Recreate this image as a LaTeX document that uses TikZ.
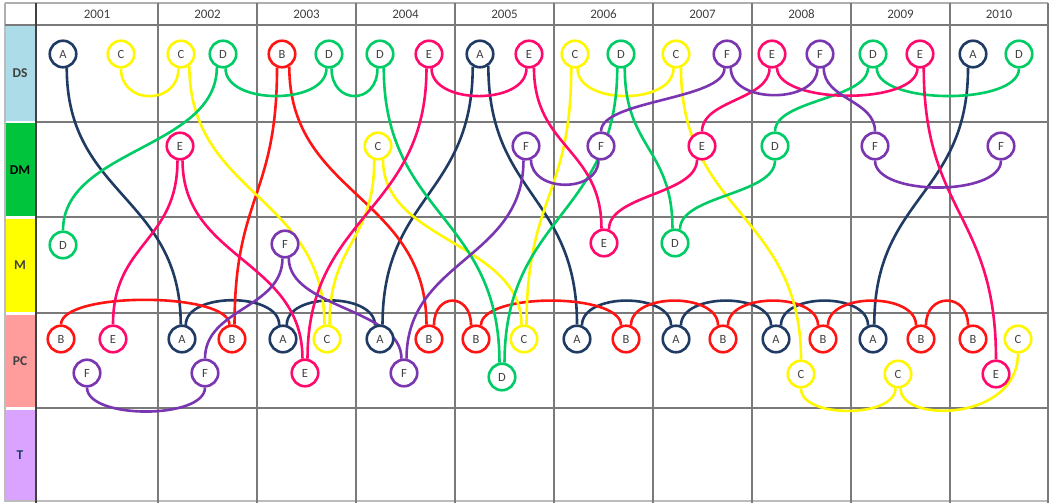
\documentclass[tikz,border=0pt]{standalone}
\usepackage{fontspec}
\setmainfont{Carlito}
\usetikzlibrary{calc}
\pgfdeclarelayer{gridl}
\pgfdeclarelayer{lines}
\pgfsetlayers{gridl,lines,main}
\definecolor{cA}{HTML}{1F3B63}
\definecolor{cB}{HTML}{FF1414}
\definecolor{cC}{HTML}{FFF700}
\definecolor{cD}{HTML}{00CC66}
\definecolor{cE}{HTML}{FF0A6C}
\definecolor{cF}{HTML}{7A35B0}
\definecolor{lDS}{HTML}{ACDCE8}
\definecolor{lDM}{HTML}{00C43C}
\definecolor{lM}{HTML}{FFFF00}
\definecolor{lPC}{HTML}{FF9C9C}
\definecolor{lT}{HTML}{D9A3FF}
\definecolor{txt}{HTML}{404040}
\definecolor{gridc}{HTML}{7A7A7A}
\tikzset{
  nd/.style={circle, draw=#1, line width=2.6pt, fill=white, minimum size=26.5pt,
    inner sep=0pt, font=\fontsize{12.5}{12.5}\selectfont, text=txt},
  cn/.style={draw=#1, line width=2.6pt},
  gl/.style={draw=gridc, line width=2.6pt},
  hdr/.style={font=\fontsize{13}{13}\selectfont, text=txt, inner sep=0pt},
  lab/.style={font=\bfseries\fontsize{13.5}{13.5}\selectfont, text=#1, inner sep=0pt},
}
\newcommand\conS[3]{%
  \path (#2) -- coordinate[midway] (mm) (#3);
  \draw[cn=#1] (#2) .. controls (#2|-mm) and (#3|-mm) .. (#3);}
\newcommand\conU[4]{%
  \draw[cn=#1] (#2) .. controls +(0,#4) and +(0,#4) .. (#3);}
\begin{document}
\begin{tikzpicture}[x=1pt,y=-1pt]
\useasboundingbox (0,0) rectangle (1050,503);
\begin{pgfonlayer}{gridl}
  \fill[white] (0,0) rectangle (1050,503);
  \fill[lDS] (5,26) rectangle (35,120.5);
  \fill[lDM] (5,123) rectangle (35,216);
  \fill[lM] (5,218.5) rectangle (35,312);
  \fill[lPC] (5,314.5) rectangle (35,407);
  \fill[lT] (5,409.5) rectangle (35,501);
  \draw[gl, draw=gridc!60, line width=1.5pt] (5,3) -- (1048,3);
  \draw[gl, draw=gridc!60, line width=1.5pt] (5,3) -- (5,25);
  \draw[gl, draw=gridc!50, line width=1.2pt] (5,25) -- (5,501) -- (1048,501);
  \draw[gl] (5,25) -- (36,25);
  \foreach \y in {25,122,217,313,408} { \draw[gl] (36,\y) -- (1048,\y); }
  \foreach \x in {158,257,356,455,554,653,752,851,950,1048} { \draw[gl] (\x,3) -- (\x,503); }
  \draw[gl, draw=black!75, line width=2.2pt] (36,3) -- (36,503);
\end{pgfonlayer}
% header
\node[hdr] (y01) at (97,14.5) {2001};
\node[hdr] (y02) at (207.5,14.5) {2002};
\node[hdr] (y03) at (306.5,14.5) {2003};
\node[hdr] (y04) at (405.5,14.5) {2004};
\node[hdr] (y05) at (504.5,14.5) {2005};
\node[hdr] (y06) at (603.5,14.5) {2006};
\node[hdr] (y07) at (702.5,14.5) {2007};
\node[hdr] (y08) at (801.5,14.5) {2008};
\node[hdr] (y09) at (900.5,14.5) {2009};
\node[hdr] (y10) at (999,14.5) {2010};
% row labels
\node[lab=txt] (rDS) at (20,73) {DS};
\node[lab=black] (rDM) at (20,170) {DM};
\node[lab=txt] (rM) at (20,265) {M};
\node[lab=txt] (rPC) at (20,361) {PC};
\node[lab=cA] (rT) at (20,455) {T};
% DS row
\node[nd=cA] (A01s) at (63,54) {A};
\node[nd=cC] (C01s) at (121,54) {C};
\node[nd=cC] (C02s) at (181,54) {C};
\node[nd=cD] (D02s) at (223,54) {D};
\node[nd=cB] (B03s) at (282,54) {B};
\node[nd=cD] (D03s) at (329,54) {D};
\node[nd=cD] (D04s) at (380,54) {D};
\node[nd=cE] (E04s) at (429,54) {E};
\node[nd=cA] (A05s) at (480,54) {A};
\node[nd=cE] (E05s) at (529,54) {E};
\node[nd=cC] (C06s) at (575,54) {C};
\node[nd=cD] (D06s) at (621,54) {D};
\node[nd=cC] (C07s) at (676,54) {C};
\node[nd=cF] (F07s) at (727,54) {F};
\node[nd=cE] (E08s) at (772,54) {E};
\node[nd=cF] (F08s) at (820,54) {F};
\node[nd=cD] (D09s) at (873,54) {D};
\node[nd=cE] (E09s) at (920,54) {E};
\node[nd=cA] (A10s) at (973,54) {A};
\node[nd=cD] (D10s) at (1019,54) {D};
% DM row
\node[nd=cE] (E02m) at (180,146) {E};
\node[nd=cC] (C04m) at (378,146) {C};
\node[nd=cF] (F05m) at (526,146) {F};
\node[nd=cF] (F06m) at (601,146) {F};
\node[nd=cE] (E07m) at (702,146) {E};
\node[nd=cD] (D08m) at (775,146) {D};
\node[nd=cF] (F09m) at (875,146) {F};
\node[nd=cF] (F10m) at (1001,146) {F};
% M row
\node[nd=cD] (D01x) at (63,245) {D};
\node[nd=cF] (F03x) at (285,244) {F};
\node[nd=cE] (E06x) at (604,243) {E};
\node[nd=cD] (D07x) at (675,243) {D};
% PC row
\node[nd=cB] (B01p) at (61,339) {B};
\node[nd=cE] (E01p) at (113,339) {E};
\node[nd=cF] (F01q) at (87,373) {F};
\node[nd=cA] (A02p) at (182,339) {A};
\node[nd=cB] (B02p) at (232,339) {B};
\node[nd=cF] (F02q) at (205,373) {F};
\node[nd=cA] (A03p) at (283,339) {A};
\node[nd=cC] (C03p) at (327,339) {C};
\node[nd=cE] (E03q) at (305,373) {E};
\node[nd=cA] (A04p) at (380,339) {A};
\node[nd=cB] (B04p) at (429,339) {B};
\node[nd=cF] (F04q) at (404,373) {F};
\node[nd=cB] (B05p) at (476,339) {B};
\node[nd=cC] (C05p) at (524,339) {C};
\node[nd=cD] (D05q) at (502,377) {D};
\node[nd=cA] (A06p) at (577,339) {A};
\node[nd=cB] (B06p) at (626,339) {B};
\node[nd=cA] (A07p) at (676,339) {A};
\node[nd=cB] (B07p) at (723,339) {B};
\node[nd=cA] (A08p) at (776,339) {A};
\node[nd=cB] (B08p) at (823,339) {B};
\node[nd=cC] (C08q) at (801,374) {C};
\node[nd=cA] (A09p) at (873,339) {A};
\node[nd=cB] (B09p) at (921,339) {B};
\node[nd=cC] (C09q) at (898,374) {C};
\node[nd=cB] (B10p) at (973,339) {B};
\node[nd=cC] (C10p) at (1018,339) {C};
\node[nd=cE] (E10q) at (996,374) {E};
\begin{pgfonlayer}{lines}
% navy
\conS{cA}{A01s.-75}{A02p.95}
\conU{cA}{A02p.75}{A03p.105}{-33}
\conU{cA}{A03p.75}{A04p.110}{-33}
\conS{cA}{A04p.80}{A05s.-120}
\conS{cA}{A05s.-55}{A06p.90}
\conU{cA}{A06p.70}{A07p.110}{-33}
\conU{cA}{A07p.70}{A08p.110}{-33}
\conU{cA}{A08p.70}{A09p.110}{-33}
\conS{cA}{A09p.85}{A10s.-110}
% red
\conU{cB}{B01p.90}{B02p.100}{-33}
\conS{cB}{B02p.80}{B03s.-110}
\conS{cB}{B03s.-60}{B04p.100}
\conU{cB}{B04p.70}{B05p.110}{-33}
\conU{cB}{B05p.70}{B06p.110}{-33}
\conU{cB}{B06p.70}{B07p.110}{-33}
\conU{cB}{B07p.70}{B08p.110}{-33}
\conU{cB}{B08p.70}{B09p.110}{-33}
\conU{cB}{B09p.70}{B10p.110}{-33}
% yellow
\conU{cC}{C01s.-90}{C02s.-100}{37}
\conS{cC}{C02s.-55}{C03p.100}
\conS{cC}{C04m.-105}{C03p.80}
\conS{cC}{C04m.-70}{C05p.100}
\conS{cC}{C05p.80}{C06s.-105}
\conU{cC}{C06s.-80}{C07s.-100}{37}
\conS{cC}{C07s.-70}{C08q.90}
\conU{cC}{C08q.-90}{C09q.-100}{30}
\draw[cn=cC] (C09q.-80) .. controls +(0,35) and +(0,68) .. (C10p.-90);
% green
\conS{cD}{D01x.90}{D02s.-115}
\conU{cD}{D02s.-80}{D03s.-100}{37}
\conU{cD}{D03s.-80}{D04s.-100}{37}
\conS{cD}{D04s.-75}{D05q.100}
\conS{cD}{D05q.80}{D06s.-105}
\conS{cD}{D06s.-75}{D07x.100}
\conS{cD}{D07x.70}{D08m.-90}
\conS{cD}{D08m.90}{D09s.-110}
\conU{cD}{D09s.-75}{D10s.-90}{37}
% pink
\conS{cE}{E01p.90}{E02m.-100}
\conS{cE}{E02m.-80}{E03q.100}
\conS{cE}{E03q.80}{E04s.-100}
\conU{cE}{E04s.-80}{E05s.-100}{37}
\conS{cE}{E05s.-70}{E06x.100}
\conS{cE}{E06x.70}{E07m.-110}
\conS{cE}{E07m.90}{E08s.-100}
\conU{cE}{E08s.-70}{E09s.-100}{37}
\conS{cE}{E09s.-75}{E10q.90}
% purple
\conU{cF}{F01q.-90}{F02q.-90}{32}
\conS{cF}{F02q.90}{F03x.-100}
\conS{cF}{F03x.-75}{F04q.100}
\conS{cF}{F04q.80}{F05m.-100}
\conU{cF}{F05m.-70}{F06m.-100}{33}
\conS{cF}{F06m.90}{F07s.-100}
\conU{cF}{F07s.-75}{F08s.-100}{36}
\conS{cF}{F08s.-75}{F09m.90}
\conU{cF}{F09m.-90}{F10m.-90}{36}
\end{pgfonlayer}
\end{tikzpicture}
\end{document}
